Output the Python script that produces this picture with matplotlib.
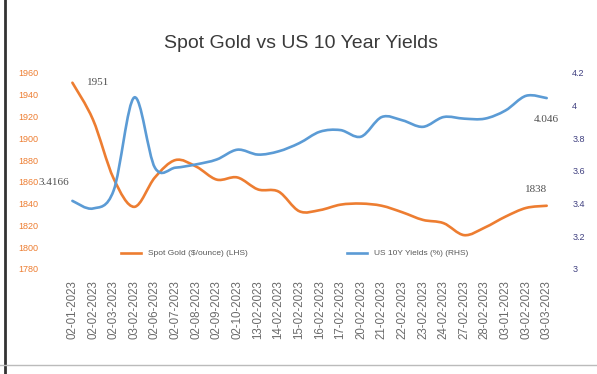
import numpy as np
import matplotlib.pyplot as plt
from matplotlib.lines import Line2D
from matplotlib.path import Path
from matplotlib.patches import PathPatch

dates = ["02-01-2023", "02-02-2023", "02-03-2023", "03-02-2023", "02-06-2023",
         "02-07-2023", "02-08-2023", "02-09-2023", "02-10-2023", "13-02-2023",
         "14-02-2023", "15-02-2023", "16-02-2023", "17-02-2023", "20-02-2023",
         "21-02-2023", "22-02-2023", "23-02-2023", "24-02-2023", "27-02-2023",
         "28-02-2023", "03-01-2023", "03-02-2023", "03-03-2023"]

gold = [1951, 1917, 1863, 1837, 1864, 1880, 1874, 1862, 1864, 1853,
        1851, 1833, 1834, 1839, 1840, 1838, 1832, 1825, 1822, 1811,
        1818, 1828, 1836, 1838]

yields = [3.4166, 3.37, 3.48, 4.05, 3.62, 3.62, 3.64, 3.67, 3.73, 3.70,
          3.72, 3.77, 3.84, 3.85, 3.81, 3.93, 3.91, 3.87, 3.93, 3.92,
          3.92, 3.97, 4.06, 4.046]

orange = '#ED7D31'
blue = '#5B9BD5'


def smooth_line(ax, xs, ys, color):
    # Excel style smoothed line: bezier segments through the data points
    xs = np.asarray(xs, float)
    ys = np.asarray(ys, float)
    verts = [(xs[0], ys[0])]
    codes = [Path.MOVETO]
    n = len(xs)
    for i in range(n - 1):
        x0, y0 = xs[max(i - 1, 0)], ys[max(i - 1, 0)]
        x3, y3 = xs[min(i + 2, n - 1)], ys[min(i + 2, n - 1)]
        c1 = (xs[i] + (xs[i + 1] - x0) / 6, ys[i] + (ys[i + 1] - y0) / 6)
        c2 = (xs[i + 1] - (x3 - xs[i]) / 6, ys[i + 1] - (y3 - ys[i]) / 6)
        verts += [c1, c2, (xs[i + 1], ys[i + 1])]
        codes += [Path.CURVE4] * 3
    ax.add_patch(PathPatch(Path(verts, codes), facecolor='none', edgecolor=color,
                           lw=1.9, capstyle='round', joinstyle='round'))


plt.rcParams['font.family'] = ['Liberation Sans', 'DejaVu Sans']
fig = plt.figure(figsize=(5.97, 3.74), dpi=100)

ax = fig.add_axes([0.104, 0.281, 0.829, 0.524])
ax2 = ax.twinx()

x = np.arange(len(dates))
smooth_line(ax, x, gold, orange)
smooth_line(ax2, x, yields, blue)

ax.set_xlim(-0.5, len(dates) - 0.5)
ax.set_ylim(1780, 1960)
ax.set_yticks(np.arange(1780, 1961, 20))
ax2.set_ylim(3.0, 4.2)
ax2.set_yticks([3, 3.2, 3.4, 3.6, 3.8, 4, 4.2])
ax2.set_yticklabels(['3', '3.2', '3.4', '3.6', '3.8', '4', '4.2'])

ax.set_xticks(x)
ax.set_xticklabels(dates, rotation=90, fontsize=8.3, color='#6a6a6a')
ax.tick_params(axis='y', labelsize=6.5, labelcolor=orange, length=0, pad=17)
ax.tick_params(axis='x', length=0, pad=8)
ax2.tick_params(axis='y', labelsize=6.5, labelcolor='#404080', length=0, pad=11)

for a in (ax, ax2):
    for s in a.spines.values():
        s.set_visible(False)

# data labels
lab = dict(fontsize=8, color='#505050', family='Liberation Serif', va='center')
ax.text(0.7, gold[0], str(gold[0]), ha='left', **lab)
ax2.text(-0.15, yields[0] + 0.11, '3.4166', ha='right', **lab)
ax2.text(len(dates) - 1, yields[-1] - 0.13, '4.046', ha='center', **lab)
ax.text(len(dates) - 1.5, gold[-1] + 15, str(gold[-1]), ha='center', **lab)

handles = [Line2D([], [], color=orange, lw=1.9), Line2D([], [], color=blue, lw=1.9)]
ax.legend(handles, ['Spot Gold ($/ounce) (LHS)', 'US 10Y Yields (%) (RHS)'],
          loc='lower center', bbox_to_anchor=(0.47, 0.02), ncol=2, frameon=False,
          fontsize=6, handlelength=2.4, columnspacing=12, labelcolor='#595959')

fig.text(0.505, 0.885, 'Spot Gold vs US 10 Year Yields', ha='center', va='center',
         fontsize=14, color='#3a3a3a')

# frame of the screenshot
fig.add_artist(Line2D([0.008, 0.008], [0, 1], color='#333333', lw=2))
fig.add_artist(Line2D([0, 1], [0.025, 0.025], color='#bbbbbb', lw=1))

fig.savefig('out.png', dpi=100)
